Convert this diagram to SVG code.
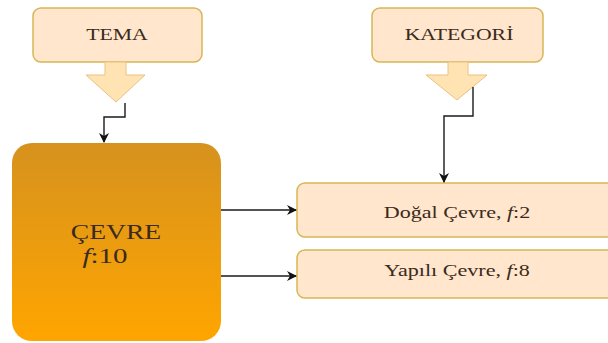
<svg xmlns="http://www.w3.org/2000/svg" width="608" height="343" viewBox="0 0 608 343">
  <defs>
    <linearGradient id="gOrange" x1="0" y1="0" x2="0" y2="1">
      <stop offset="0" stop-color="#D6921E"/>
      <stop offset="1" stop-color="#FFA500"/>
    </linearGradient>
    <marker id="arr" viewBox="0 0 10 10" refX="9" refY="5" markerWidth="10" markerHeight="10" markerUnits="userSpaceOnUse" orient="auto">
      <path d="M0,0 L10,5 L0,10 L3,5 Z" fill="#111"/>
    </marker>
  </defs>
  <style>
    .box { fill: #FFE6CC; stroke: #D6B656; stroke-width: 1.5; }
    .barrow { fill: #FFE3B3; stroke: #EAC27E; stroke-width: 1; }
    .lbl { font-family: "Liberation Serif", "DejaVu Serif", serif; fill: #3a2a20; text-anchor: middle; }
    .conn { fill: none; stroke: #1a1a1a; stroke-width: 1.4; }
  </style>
  <rect width="608" height="343" fill="#FFFFFF"/>

  <g id="tema">
    <rect class="box" x="33" y="8" width="169" height="54" rx="8"/>
    <text class="lbl" font-size="17" transform="translate(117,40) scale(1.28,1)">TEMA</text>
  </g>
  <g id="tema-arrow">
    <path class="barrow" d="M105,62 L126,62 L126,75 L145,75 L116,102 L86,75 L105,75 Z"/>
  </g>

  <g id="kategori">
    <rect class="box" x="372" y="8" width="171" height="54" rx="8"/>
    <text class="lbl" font-size="17" transform="translate(459,40) scale(1.28,1)">KATEGORİ</text>
  </g>
  <g id="kategori-arrow">
    <path class="barrow" d="M448,62 L468,62 L468,75 L487,75 L457,100 L426,75 L448,75 Z"/>
  </g>

  <g id="cevre">
    <rect x="12" y="143" width="209" height="198" rx="20" fill="url(#gOrange)"/>
    <text class="lbl" font-size="20" transform="translate(116,239) scale(1.38,1)">ÇEVRE</text>
    <text class="lbl" font-size="20" transform="translate(105,263) scale(1.45,1)"><tspan font-style="italic">f</tspan>:10</text>
  </g>

  <g id="dogal">
    <rect class="box" x="297" y="183" width="320" height="54" rx="8"/>
    <text class="lbl" font-size="17" transform="translate(457,218) scale(1.3,1)">Doğal Çevre, <tspan font-style="italic">f</tspan>:2</text>
  </g>

  <g id="yapili">
    <rect class="box" x="297" y="250" width="320" height="48" rx="8"/>
    <text class="lbl" font-size="17" transform="translate(457,276) scale(1.3,1)">Yapılı Çevre, <tspan font-style="italic">f</tspan>:8</text>
  </g>

  <g id="connectors">
    <path class="conn" d="M125,103 L125,117 L104,117 L104,142" marker-end="url(#arr)"/>
    <path class="conn" d="M473,87 L473,116 L444,116 L444,182" marker-end="url(#arr)"/>
    <path class="conn" d="M221,210 L296,210" marker-end="url(#arr)"/>
    <path class="conn" d="M221,276 L296,276" marker-end="url(#arr)"/>
  </g>
</svg>
